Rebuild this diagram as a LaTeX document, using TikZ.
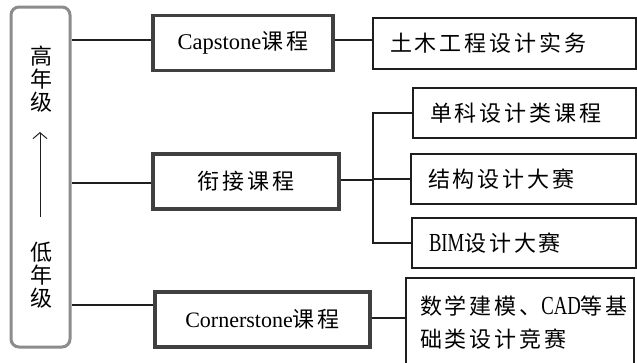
\documentclass[tikz,border=0pt]{standalone}
\usepackage{fontspec}
\setmainfont{Liberation Serif}
\newfontfamily\cjk{Noto Sans CJK SC}[LetterSpace=13]
\newfontfamily\cjkv{Noto Sans CJK SC}
\newfontfamily\latn{Liberation Serif}[FakeStretch=0.72]
\usetikzlibrary{arrows.meta}
\definecolor{leftgray}{HTML}{8C8C8C}
\definecolor{midgray}{HTML}{404040}
\definecolor{linek}{HTML}{1E1E1E}
\tikzset{
  lbox/.style={draw=leftgray, line width=3pt, rounded corners=8pt, minimum width=59pt, minimum height=340pt, inner sep=0pt},
  midbox/.style={draw=midgray, line width=3.5pt, minimum height=55pt, inner sep=0pt, font=\cjk\fontsize{22}{24}\selectfont},
  rbox/.style={draw=linek, line width=1.3pt, minimum height=50pt, inner xsep=17pt, inner ysep=0pt, align=left, font=\cjk\fontsize{22}{33}\selectfont},
  conn/.style={draw=linek, line width=1.3pt},
  vtext/.style={align=center, inner sep=0pt, font=\cjkv\fontsize{22}{23}\selectfont},
  latw/.style={},
}
\newcommand\lat[1]{{\latn\fontsize{26}{33}\selectfont #1}}
\begin{document}
\begin{tikzpicture}[x=1pt,y=-1pt]
\clip (0,0) rectangle (637,362);
\fill[white] (0,0) rectangle (637,362);
% left box
\node[lbox] (lb) at (40.5,177) {};
\node[vtext] (hi) at (41.5,79) {高\\年\\级};
\node[vtext] (lo) at (41.5,275) {低\\年\\级};
\coordinate (ab) at (40,217);
\coordinate (at) at (40,132);
\draw[conn, line width=1pt, -{Straight Barb[length=6pt,width=14pt]}] (ab) -- (at);
% middle boxes
\node[midbox, minimum width=180pt] (cap) at (243,43) {{\fontsize{22.5}{24}\selectfont\rmfamily Capstone}课程};
\node[midbox, minimum width=186pt] (xj) at (246,181.5) {衔接课程};
\node[midbox, minimum width=215pt] (corn) at (262.5,319.5) {{\fontsize{22}{24}\selectfont\rmfamily Cornerstone}课程};
% right boxes
\node[rbox, text width=229pt, minimum height=51pt] (r1) at (504.5,43.5) {土木工程设计实务};
\node[rbox, text width=189pt] (r2) at (524.5,113) {单科设计类课程};
\node[rbox, text width=191pt] (r3) at (523.5,179) {结构设计大赛};
\node[rbox, text width=190pt] (r4) at (524,243) {\lat{BIM}设计大赛};
\node[rbox, inner xsep=14pt, text width=200pt, minimum height=90pt] (r5) at (520,323) {数学建模、\lat{CAD}等基\\础类设计竞赛};
% connectors
\draw[conn] ([yshift=3pt]cap.west -| lb.east) -- ([yshift=3pt]cap.west);
\draw[conn] ([yshift=-1.5pt]xj.west -| lb.east) -- ([yshift=-1.5pt]xj.west);
\draw[conn] ([yshift=14.5pt]corn.west -| lb.east) -- ([yshift=14.5pt]corn.west);
\draw[conn] ([yshift=3pt]cap.east) -- ([yshift=3pt]cap.east -| r1.west);
\coordinate (bx) at (373,180);
\draw[conn] (xj.east |- bx) -- (bx);
\draw[conn] (r2.west) -| (bx |- r4.west) -- (r4.west);
\draw[conn] (bx |- r3.west) -- (r3.west);
\draw[conn] ([yshift=1.5pt]corn.east) -- ([yshift=1.5pt]corn.east -| r5.west);
\end{tikzpicture}
\end{document}
